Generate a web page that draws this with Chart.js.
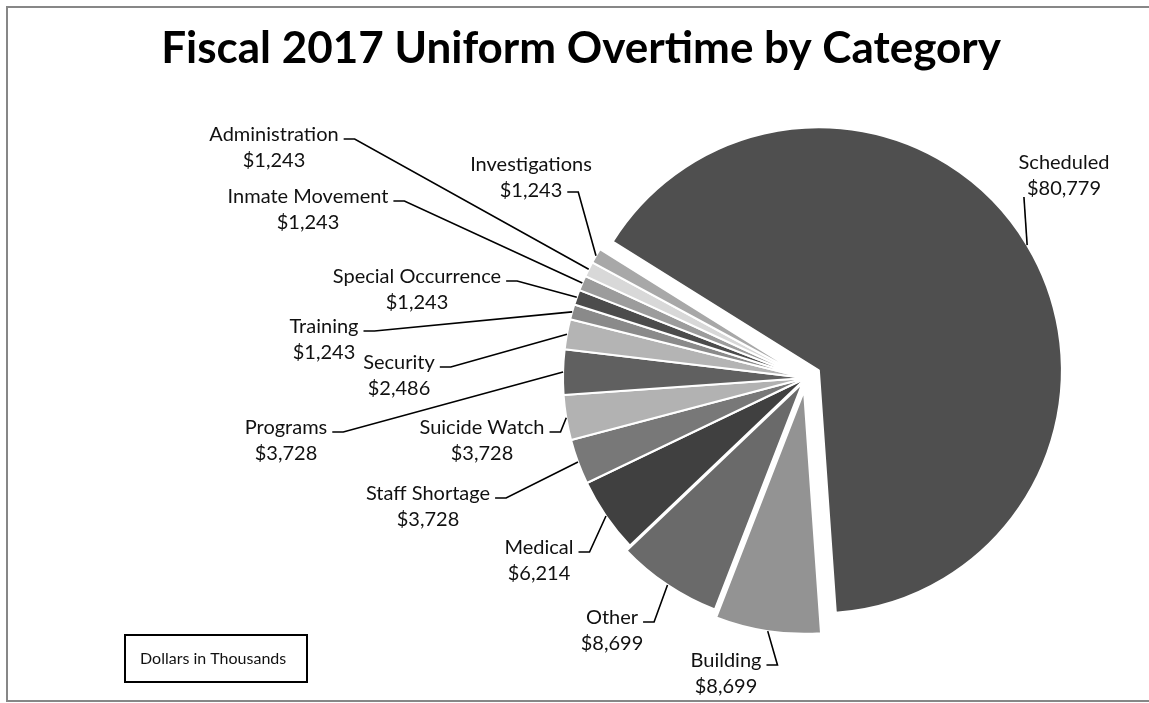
<!DOCTYPE html>
<html><head><meta charset="utf-8">
<script src="https://cdn.jsdelivr.net/npm/chart.js@4.4.1/dist/chart.umd.min.js"></script>
<style>html,body{margin:0;padding:0;background:#fff;overflow:hidden}</style>
</head><body>
<canvas id="c" width="1149" height="703"></canvas>
<script>
// ---- data ----
const chartTitle = "Fiscal 2017 Uniform Overtime by Category";
const noteText = "Dollars in Thousands";
const categories = ["Scheduled","Building","Other","Medical","Staff Shortage","Suicide Watch","Programs","Security","Training","Special Occurrence","Inmate Movement","Administration","Investigations"];
const overtimeDollars = [80779,8699,8699,6214,3728,3728,3728,2486,1243,1243,1243,1243,1243];
const valueLabels = ["$80,779","$8,699","$8,699","$6,214","$3,728","$3,728","$3,728","$2,486","$1,243","$1,243","$1,243","$1,243","$1,243"];

// ---- styling / layout ----
const sliceColors = ["#4f4f4f","#939393","#6a6a6a","#404040","#787878","#b2b2b2","#606060","#b4b4b4","#8a8a8a","#4c4c4c","#9c9c9c","#d8d8d8","#a8a8a8"];
const explodePx = [15,13,6,0,0,0,0,0,0,0,0,0,0];
// centre of first label line, and hook style
const labelPos = [[1064,163],[726,661],[612,618],[539,548],[428,494],[482,428],[286,428],[399,363],[324,327],[417,277],[308,197],[274,135],[531,165]];
const hookStyle = ["below","r1","r1","r1","r1","r1","r1","r1","r1","r1","r1","r1","r2"];
const LABEL_FONT = "20px Lato";
const LINE_GAP = 26;

const explodePlugin = {
  id: 'explode',
  afterDatasetUpdate(chart, args) {
    const meta = chart.getDatasetMeta(args.index);
    meta.data.forEach((arc, i) => {
      const d = explodePx[i] || 0;
      const mid = (arc.startAngle + arc.endAngle) / 2;
      arc.x += Math.cos(mid) * d;
      arc.y += Math.sin(mid) * d;
    });
  }
};

const decorPlugin = {
  id: 'decor',
  beforeDraw(chart) {
    const ctx = chart.ctx;
    ctx.save();
    ctx.strokeStyle = '#878787';
    ctx.lineWidth = 2;
    ctx.beginPath();
    ctx.moveTo(1160, 7); ctx.lineTo(7, 7); ctx.lineTo(7, 701); ctx.lineTo(1160, 701);
    ctx.stroke();
    ctx.restore();
  },
  afterDatasetsDraw(chart) {
    const ctx = chart.ctx;
    const meta = chart.getDatasetMeta(0);
    ctx.save();
    // title
    ctx.fillStyle = '#000';
    ctx.font = 'bold 44px Lato';
    ctx.textAlign = 'center';
    ctx.textBaseline = 'middle';
    ctx.fillText(chartTitle, 581, 49);

    ctx.font = LABEL_FONT;
    ctx.fillStyle = '#111';
    ctx.strokeStyle = '#000';
    ctx.lineWidth = 1.6;
    meta.data.forEach((arc, i) => {
      const [lx, ly] = labelPos[i];
      const l1 = categories[i], l2 = valueLabels[i];
      ctx.textAlign = 'center';
      ctx.fillText(l1, lx, ly);
      ctx.fillText(l2, lx, ly + LINE_GAP);
      const mid = (arc.startAngle + arc.endAngle) / 2;
      const ax = arc.x + Math.cos(mid) * arc.outerRadius;
      const ay = arc.y + Math.sin(mid) * arc.outerRadius;
      const w1 = ctx.measureText(l1).width, w2 = ctx.measureText(l2).width;
      ctx.beginPath();
      if (hookStyle[i] === 'below') {
        ctx.moveTo(lx - w2 / 2 - 3, ly + LINE_GAP + 8);
        ctx.lineTo(ax, ay);
      } else {
        const w = hookStyle[i] === 'r2' ? w2 : w1;
        const y = hookStyle[i] === 'r2' ? ly + LINE_GAP + 1 : ly + 4;
        const sx = lx + w / 2 + 5;
        ctx.moveTo(sx, y);
        ctx.lineTo(sx + 11, y);
        ctx.lineTo(ax, ay);
      }
      ctx.stroke();
    });

    // note box
    ctx.lineWidth = 2;
    ctx.strokeRect(125, 635, 182, 47);
    ctx.font = '16px Lato';
    ctx.textAlign = 'left';
    ctx.fillText(noteText, 140, 659);
    ctx.restore();
  }
};

new Chart(document.getElementById('c'), {
  type: 'pie',
  data: {
    labels: categories,
    datasets: [{
      data: overtimeDollars,
      backgroundColor: sliceColors,
      borderColor: '#ffffff',
      borderWidth: 2,
      hoverBorderWidth: 2,
      hoverOffset: 0,
      offset: 0
    }]
  },
  options: {
    responsive: false,
    animation: false,
    rotation: 302,
    radius: 243,
    layout: { padding: { left: 518, right: 55, top: 122, bottom: 69 } },
    plugins: { legend: { display: false }, title: { display: false }, tooltip: { enabled: false } },
    events: []
  },
  plugins: [explodePlugin, decorPlugin]
});
</script>
</body></html>
